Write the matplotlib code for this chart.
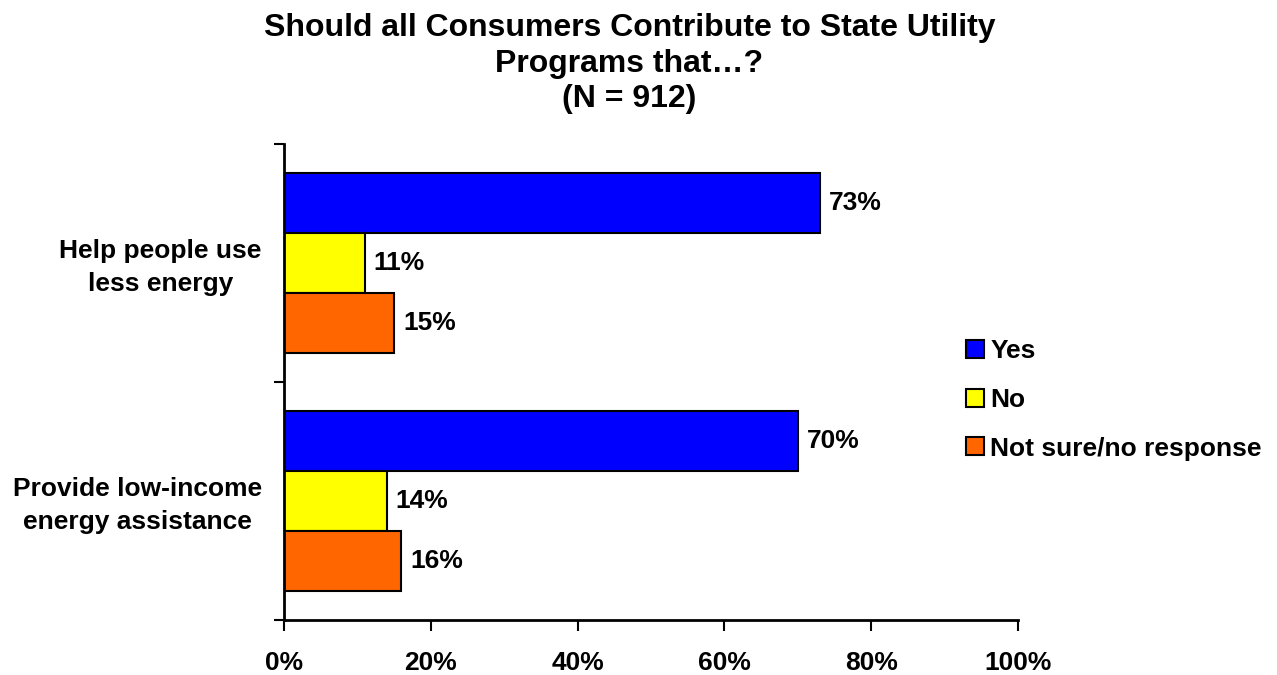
import matplotlib.pyplot as plt
import numpy as np

plt.rcParams['font.family'] = ['Liberation Sans', 'DejaVu Sans']
plt.rcParams['font.weight'] = 'bold'

categories = ['Help people use\nless energy', 'Provide low-income\nenergy assistance']
series = ['Yes', 'No', 'Not sure/no response']
yes = [73, 70]
no = [11, 14]
not_sure = [15, 16]
colors = ['#0000FF', '#FFFF00', '#FF6600']

fig = plt.figure(figsize=(12.77, 6.75), dpi=100)
ax = fig.add_axes([0.2224, 0.0815, 0.5748, 0.7052])

fs = 19
bar_h = 0.252
pos = np.arange(len(categories)) + 0.5
handles = []
for i, (name, vals, c) in enumerate(zip(series, [yes, no, not_sure], colors)):
    y = pos + (i - 1) * bar_h
    b = ax.barh(y, vals, height=bar_h, color=c, edgecolor='black', linewidth=1.5, label=name)
    handles.append(b)
    for yy, v in zip(y, vals):
        ax.text(v + 1.2, yy, f'{v}%', va='center', ha='left', fontsize=fs, fontweight='bold')

ax.set_xlim(0, 100)
ax.set_ylim(len(categories), 0)
ax.set_xticks(range(0, 101, 20))
ax.set_xticklabels([f'{t}%' for t in range(0, 101, 20)], fontsize=fs, fontweight='bold')
ax.set_yticks([0, 1, 2])
ax.set_yticklabels([])
ax.set_yticks(pos - 0.01, minor=True)
ax.set_yticklabels(categories, minor=True, fontsize=fs, fontweight='bold', ha='right',
                   multialignment='center', linespacing=1.45)
ax.tick_params(axis='y', which='minor', length=0, pad=16)
ax.tick_params(axis='y', which='major', length=7, width=1.5, direction='out')
ax.tick_params(axis='x', length=8, width=1.5, direction='out', pad=14)
for s in ['top', 'right']:
    ax.spines[s].set_visible(False)
for s in ['left', 'bottom']:
    ax.spines[s].set_linewidth(2)

fig.legend(handles=handles, loc='center left', bbox_to_anchor=(0.7568, 0.4074), frameon=False,
           handlelength=0.65, handleheight=0.65, handletextpad=0.25,
           labelspacing=0.93, borderaxespad=0, borderpad=0,
           prop={'weight': 'bold', 'size': fs})

fig.suptitle('Should all Consumers Contribute to State Utility\nPrograms that\u2026?\n(N = 912)',
             x=0.493, y=0.981, fontsize=23, fontweight='bold', linespacing=1.25, va='top')

fig.savefig('out.png', dpi=100)
